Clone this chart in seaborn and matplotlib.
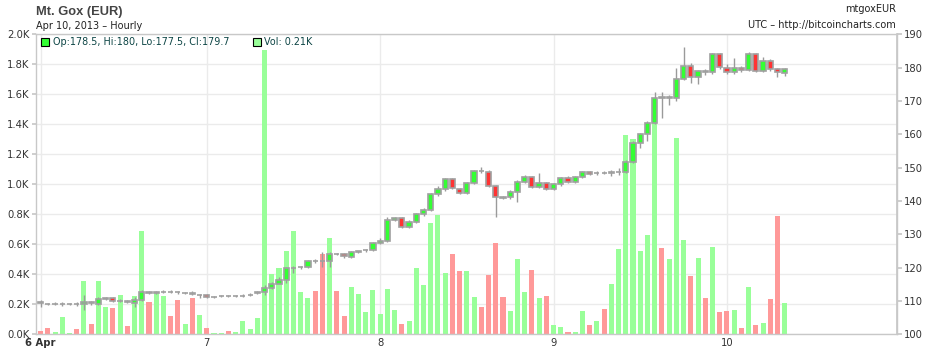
import numpy as np
import pandas as pd
import matplotlib
matplotlib.use("Agg")
import matplotlib.pyplot as plt
from matplotlib.patches import Rectangle
import seaborn as sns

# ---------------- data (hourly candles, 6 Apr 01:00 .. 10 Apr 08:00) ----------------
open_ = [109.8, 109.1, 109.1, 109.1, 109.1, 109.1, 109.1, 109.8, 109.2, 110.5,
         111.0, 110.1, 110.0, 109.5, 110.3, 112.8, 112.3, 112.8, 112.8, 112.6,
         112.5, 112.5, 111.9, 111.7, 111.3, 111.4, 111.5, 111.5, 111.6, 111.9,
         112.3, 112.6, 113.8, 115.0, 116.3, 119.8, 120.1, 120.2, 122.1, 122.1,
         122.0, 124.1, 124.0, 123.2, 124.7, 125.2, 125.3, 127.4, 128.0, 134.3,
         135.0, 132.3, 133.8, 136.0, 137.3, 142.0, 143.5, 146.5, 143.6, 142.5,
         145.5, 149.0, 148.8, 144.5, 141.0, 141.1, 142.8, 145.8, 147.3, 144.3,
         145.5, 143.6, 145.0, 147.0, 145.8, 147.3, 148.8, 148.5, 148.5, 148.3,
         148.8, 148.8, 151.8, 157.5, 160.0, 163.5, 171.0, 171.0, 171.0, 176.6,
         180.6, 177.3, 179.1, 178.6, 184.0, 180.0, 178.6, 180.0, 179.3, 184.0,
         179.0, 182.1, 179.5, 178.5]
close_ = [109.3, 109.1, 109.1, 109.1, 109.1, 109.1, 109.8, 109.3, 110.5, 110.8,
          110.0, 110.1, 109.7, 110.3, 112.8, 112.5, 112.8, 112.8, 112.8, 112.6,
          112.5, 112.0, 111.9, 111.3, 111.3, 111.4, 111.5, 111.5, 111.6, 111.9,
          112.6, 113.8, 115.0, 116.3, 119.8, 120.0, 120.2, 122.1, 122.0, 122.0,
          124.0, 124.1, 123.4, 124.6, 124.9, 125.3, 127.3, 128.0, 134.3, 135.0,
          132.3, 133.8, 136.0, 137.3, 142.0, 143.5, 146.5, 144.0, 142.5, 145.5,
          149.1, 149.1, 144.5, 141.1, 141.1, 142.8, 145.8, 147.3, 144.3, 145.5,
          143.6, 145.0, 146.8, 145.8, 147.3, 148.8, 148.1, 148.5, 148.5, 148.8,
          148.8, 151.8, 157.5, 160.0, 163.5, 171.0, 171.1, 171.1, 176.6, 180.6,
          177.3, 179.1, 178.8, 184.0, 180.3, 178.6, 180.0, 179.3, 184.0, 179.0,
          182.1, 179.5, 178.8, 179.7]
high = [110.3, 109.5, 109.6, 109.6, 109.5, 109.7, 111.8, 110.1, 111.3, 111.2,
        111.3, 110.5, 110.3, 111.3, 113.3, 113.1, 113.1, 113.3, 113.2, 113.0,
        112.8, 112.9, 112.2, 112.1, 111.6, 111.8, 111.8, 111.8, 112.0, 112.3,
        113.0, 114.8, 115.8, 117.3, 120.3, 120.6, 120.6, 122.4, 122.6, 124.8,
        124.8, 124.5, 124.5, 125.0, 125.1, 125.7, 127.6, 128.8, 135.3, 135.3,
        135.3, 134.2, 136.3, 137.8, 142.3, 144.6, 147.0, 146.9, 144.0, 145.8,
        149.4, 150.1, 149.3, 144.8, 141.5, 143.2, 146.2, 147.8, 147.6, 148.5,
        145.8, 145.3, 147.2, 147.4, 147.6, 149.1, 149.1, 149.0, 148.9, 149.3,
        149.8, 152.2, 158.0, 160.3, 164.0, 172.8, 172.8, 171.8, 180.0, 186.3,
        181.5, 179.4, 179.5, 184.3, 184.3, 181.0, 183.0, 180.4, 184.6, 184.5,
        183.1, 182.6, 180.0, 180.0]
low = [108.3, 108.7, 108.7, 108.6, 108.7, 108.6, 107.3, 108.9, 108.8, 110.2,
       109.6, 109.7, 109.3, 108.1, 110.0, 112.2, 112.0, 112.4, 112.4, 112.2,
       112.1, 111.7, 110.8, 111.0, 110.9, 111.1, 111.2, 111.2, 111.3, 111.6,
       112.0, 111.8, 113.5, 115.3, 115.3, 118.3, 119.5, 119.8, 121.5, 120.3,
       120.1, 123.7, 123.0, 122.8, 124.3, 124.8, 125.0, 127.0, 127.8, 134.0,
       132.0, 131.8, 133.4, 135.6, 137.0, 141.4, 143.1, 143.6, 142.0, 142.1,
       145.1, 148.3, 144.1, 135.3, 140.6, 140.7, 139.8, 145.4, 143.9, 143.9,
       143.2, 143.2, 144.6, 145.4, 145.4, 146.9, 147.7, 147.9, 148.0, 147.6,
       147.8, 148.4, 151.4, 155.8, 158.0, 163.0, 164.8, 168.8, 170.0, 176.3,
       175.5, 175.0, 177.8, 178.0, 179.7, 178.2, 178.2, 178.8, 178.9, 178.6,
       178.6, 179.0, 177.1, 177.5]
volume_k = [0.024, 0.042, 0.015, 0.115, 0.008, 0.035, 0.355, 0.069, 0.355, 0.182,
            0.175, 0.262, 0.055, 0.255, 0.689, 0.215, 0.284, 0.255, 0.122, 0.229,
            0.069, 0.242, 0.129, 0.042, 0.008, 0.008, 0.022, 0.015, 0.089, 0.035,
            0.109, 1.895, 0.404, 0.444, 0.555, 0.689, 0.284, 0.244, 0.289, 0.535,
            0.644, 0.289, 0.124, 0.317, 0.268, 0.148, 0.295, 0.135, 0.302, 0.162,
            0.071, 0.089, 0.440, 0.328, 0.742, 0.795, 0.408, 0.535, 0.422, 0.422,
            0.249, 0.184, 0.395, 0.608, 0.251, 0.155, 0.502, 0.282, 0.429, 0.244,
            0.258, 0.062, 0.049, 0.015, 0.015, 0.155, 0.062, 0.089, 0.169, 0.335,
            0.569, 1.328, 1.302, 0.557, 0.662, 1.510, 0.577, 0.502, 1.310, 0.631,
            0.391, 0.511, 0.244, 0.584, 0.151, 0.158, 0.162, 0.044, 0.318, 0.064,
            0.078, 0.233, 0.791, 0.212]
vol_dir = list("dduuududu" "u"
               "dudu" "uduudd"
               "udud" "uuduuu"
               "uuuu" "uuuudd"
               "uddu" "uuuuuu"
               "duuu" "uuuddu"
               "uddd" "duuudu"
               "duud" "uudud" "u"
               "uuuu" "uuduuu"
               "dudu" "ddudud"
               "uddu")

day_tick_pos = [0, 23, 47, 71, 95]
day_tick_labels = ["6 Apr", "7", "8", "9", "10"]
vol_ticks = [0, 200, 400, 600, 800, 1000, 1200, 1400, 1600, 1800, 2000]
vol_tick_labels = ["0.0K", "0.2K", "0.4K", "0.6K", "0.8K", "1.0K",
                   "1.2K", "1.4K", "1.6K", "1.8K", "2.0K"]
price_ticks = [100, 110, 120, 130, 140, 150, 160, 170, 180, 190]

# ---------------- styling ----------------
sns.set_theme(style="white")
plt.rcParams['font.family'] = ['DejaVu Sans']

W, H = 930, 350
fig = plt.figure(figsize=(W / 100, H / 100), dpi=100)
fig.patch.set_facecolor('white')
L, R, T, B = 35.7, 896.7, 34.3, 334.3
ax = fig.add_axes([L / W, 1 - B / H, (R - L) / W, (B - T) / H])

n = len(close_)
idx = np.arange(n)
df = pd.DataFrame({'idx': idx,
                   'vol': np.array(volume_k) * 1000.0,
                   'dir': vol_dir[:n]})

sns.barplot(data=df, x='idx', y='vol', hue='dir',
            palette={'u': '#99ff99', 'd': '#ff9999'},
            dodge=False, native_scale=True, width=0.7, saturation=1,
            errorbar=None, legend=False, linewidth=0, ax=ax)

grid_c = '#ebebeb'
spine_c = '#c8c8c8'
ax.set_xlim(-0.68, 118.5)
ax.set_ylim(0, 2000)
ax.set_yticks(vol_ticks)
ax.set_yticklabels(vol_tick_labels)
ax.set_xticks(day_tick_pos)
ax.set_xticklabels(day_tick_labels)
ax.set_xlabel('')
ax.set_ylabel('')
ax.set_axisbelow(True)
ax.grid(True, color=grid_c, lw=1)
ax.tick_params(axis='y', length=3, color=spine_c, labelsize=7.2,
               labelcolor='#333333', pad=1.5)
ax.tick_params(axis='x', length=0, labelsize=7.2, labelcolor='#333333', pad=2.5)
ax.get_xticklabels()[0].set_fontweight('bold')
for s in ax.spines.values():
    s.set_color(spine_c)
    s.set_linewidth(1)
    s.set_visible(True)

# ---------------- candles on price axis ----------------
ax2 = ax.twinx()
o = np.array(open_)
c = np.array(close_)
hi = np.array(high)
lo = np.array(low)
up = c >= o
ax2.vlines(idx, lo, hi, color='#9a9a9a', lw=1, zorder=2)
ax2.bar(idx, np.abs(c - o), bottom=np.minimum(o, c), width=0.72,
        color=np.where(up, '#33ff33', '#ff3333'),
        edgecolor='#a0a0a0', linewidth=1.2, zorder=3)
ax2.set_ylim(100, 190)
ax2.set_yticks(price_ticks)
ax2.set_yticklabels([str(p) for p in price_ticks])
ax2.tick_params(axis='y', length=3.6, color=spine_c, labelsize=7.2,
                labelcolor='#333333', pad=1.7)
ax2.grid(False)
for k, s in ax2.spines.items():
    s.set_visible(k == 'right')
    s.set_color(spine_c)
ax2.set_xlim(-0.68, 118.5)


def fx(x):
    return x / W


def fy(y):
    return 1 - y / H


# ---------------- header texts ----------------
fig.text(fx(36), fy(15), "Mt. Gox (EUR)", fontsize=9.3, fontweight='bold',
         family=['Liberation Sans', 'DejaVu Sans'],
         color='#444444', ha='left', va='baseline')
fig.text(fx(36), fy(29), "Apr 10, 2013 \u2013 Hourly", fontsize=7,
         color='#222222', ha='left', va='baseline')
fig.text(fx(896), fy(11.5), "mtgoxEUR", fontsize=7, color='#222222',
         ha='right', va='baseline')
fig.text(fx(896), fy(28), "UTC \u2013 http://bitcoincharts.com", fontsize=7,
         color='#222222', ha='right', va='baseline')

# ---------------- legend ----------------
fig.add_artist(Rectangle((fx(41), fy(46)), 7.5 / W, 7.5 / H,
                         transform=fig.transFigure, facecolor='#33ff33',
                         edgecolor='black', lw=0.8))
fig.text(fx(53), fy(45), f"Op:{open_[-1]:g}, Hi:{high[-1]:g}, "
         f"Lo:{low[-1]:g}, Cl:{close_[-1]:g}",
         fontsize=6.95, color='#0d4545', ha='left', va='baseline')
fig.add_artist(Rectangle((fx(253), fy(46)), 7.5 / W, 7.5 / H,
                         transform=fig.transFigure, facecolor='#99ff99',
                         edgecolor='black', lw=0.8))
fig.text(fx(264), fy(45), f"Vol: {volume_k[-1]:.2f}K",
         fontsize=6.95, color='#0d4545', ha='left', va='baseline')

fig.savefig("out.png", dpi=100, facecolor='white')
